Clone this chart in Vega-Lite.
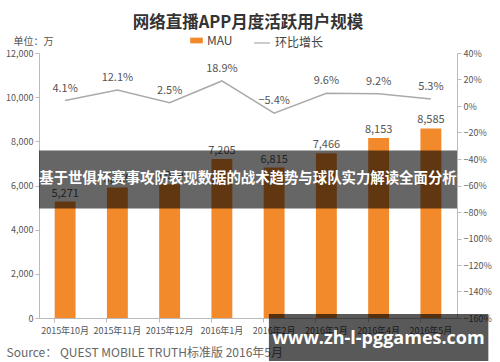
{
  "$schema": "https://vega.github.io/schema/vega-lite/v6.json",
  "width": 500,
  "height": 362,
  "autosize": {"type": "fit", "contains": "padding"},
  "padding": {"left": 5, "right": 5, "top": 14, "bottom": -15},
  "background": "white",
  "config": {
    "font": "Noto Sans CJK SC",
    "view": {"stroke": null},
    "axis": {"labelFont": "Noto Sans CJK SC", "labelColor": "#555", "domainColor": "#bbb", "tickColor": "#bbb", "grid": false},
    "legend": {"labelFont": "Noto Sans CJK SC", "labelColor": "#444", "labelFontSize": 12}
  },
  "title": {
    "text": "网络直播APP月度活跃用户规模",
    "fontSize": 16.5,
    "fontWeight": "bold",
    "color": "#333",
    "font": "Noto Sans CJK SC",
    "offset": 5
  },
  "datasets": {
    "main": [
      {"month": "2015年10月", "mau": 5271, "growth": 0.041},
      {"month": "2015年11月", "mau": 5910, "growth": 0.121},
      {"month": "2015年12月", "mau": 6059, "growth": 0.025},
      {"month": "2016年1月", "mau": 7205, "growth": 0.189},
      {"month": "2016年2月", "mau": 6815, "growth": -0.054},
      {"month": "2016年3月", "mau": 7466, "growth": 0.096},
      {"month": "2016年4月", "mau": 8153, "growth": 0.092},
      {"month": "2016年5月", "mau": 8585, "growth": 0.053}
    ],
    "banner": [
      {"label": "基于世俱杯赛事攻防表现数据的战术趋势与球队实力解读全面分析", "top": 7590, "bottom": 4955, "mid": 6273}
    ],
    "mark": [
      {"label": "www.zh-l-pggames.com", "top": 180, "bottom": -1950, "mid": -950, "at": "2016年4月"}
    ]
  },
  "data": {"name": "main"},
  "layer": [
    {
      "mark": {"type": "bar", "color": "#F28A2C"},
      "encoding": {
        "x": {
          "field": "month", "type": "nominal", "sort": null,
          "scale": {"paddingInner": 0.6, "paddingOuter": 0.3},
          "axis": {
            "title": "Source：  QUEST MOBILE   TRUTH标准版 2016年5月",
            "titleFont": "Noto Sans CJK SC", "titleFontSize": 12, "titleFontWeight": "normal", "titleColor": "#666",
            "titleAnchor": "start", "titleAlign": "left", "titleBaseline": "middle", "titleX": -33, "titleY": 34,
            "labelAngle": 0, "labelFontSize": 9, "labelPadding": 4, "tickSize": 4, "bandPosition": 0
          }
        },
        "y": {
          "field": "mau", "type": "quantitative",
          "scale": {"domain": [0, 12000]},
          "axis": {
            "values": [0, 2000, 4000, 6000, 8000, 10000, 12000], "format": ",.0f",
            "labelFontSize": 9, "tickSize": 4,
            "title": "单位：万", "titleAngle": 0, "titleFontSize": 10, "titleFontWeight": "normal", "titleColor": "#555",
            "titleAlign": "center", "titleBaseline": "middle", "titleX": -6, "titleY": -12
          }
        },
        "fill": {
          "datum": "MAU",
          "scale": {"range": ["#F28A2C"]},
          "legend": {"orient": "none", "legendX": 151, "legendY": -19, "title": null, "symbolType": "M-1,-0.45H1V0.45H-1Z", "symbolSize": 160, "symbolStrokeWidth": 0}
        }
      }
    },
    {
      "mark": {"type": "text", "dy": -8, "fontSize": 11, "color": "#555"},
      "encoding": {
        "x": {"field": "month", "type": "nominal", "sort": null},
        "y": {"field": "mau", "type": "quantitative", "scale": {"domain": [0, 12000]}, "axis": null},
        "text": {"field": "mau", "type": "quantitative", "format": ","}
      }
    },
    {
      "mark": {"type": "line", "strokeWidth": 1.5},
      "encoding": {
        "x": {"field": "month", "type": "nominal", "sort": null},
        "y": {
          "field": "growth", "type": "quantitative",
          "scale": {"domain": [-1.6, 0.4]},
          "axis": {"orient": "right", "title": null, "format": ".0%", "values": [-1.6, -1.4, -1.2, -1.0, -0.8, -0.6, -0.4, -0.2, 0, 0.2, 0.4], "labelFontSize": 9, "tickSize": 4}
        },
        "stroke": {
          "datum": "环比增长",
          "scale": {"range": ["#aaaaaa"]},
          "legend": {"orient": "none", "legendX": 214, "legendY": -19, "title": null, "symbolType": "stroke", "symbolStrokeWidth": 1.2, "symbolSize": 250}
        }
      }
    },
    {
      "mark": {"type": "text", "dy": -12, "fontSize": 11, "color": "#555"},
      "encoding": {
        "x": {"field": "month", "type": "nominal", "sort": null},
        "y": {"field": "growth", "type": "quantitative", "scale": {"domain": [-1.6, 0.4]}, "axis": null},
        "text": {"field": "growth", "type": "quantitative", "format": ".1%"}
      }
    },
    {
      "data": {"name": "banner"},
      "mark": {"type": "rect", "color": "black", "opacity": 0.6},
      "encoding": {
        "y": {"field": "top", "type": "quantitative", "scale": {"domain": [0, 12000]}, "axis": null},
        "y2": {"field": "bottom"}
      }
    },
    {
      "data": {"name": "banner"},
      "mark": {"type": "text", "color": "white", "fontSize": 14.4, "fontWeight": "bold", "font": "Noto Sans CJK SC"},
      "encoding": {
        "y": {"field": "mid", "type": "quantitative", "scale": {"domain": [0, 12000]}, "axis": null},
        "text": {"field": "label"}
      }
    },
    {
      "data": {"name": "mark"},
      "mark": {"type": "bar", "color": "black", "opacity": 0.65, "width": {"band": 10.5}},
      "encoding": {
        "x": {"field": "at", "type": "nominal", "sort": null},
        "y": {"field": "top", "type": "quantitative", "scale": {"domain": [0, 12000]}, "axis": null},
        "y2": {"field": "bottom"}
      }
    },
    {
      "data": {"name": "mark"},
      "mark": {"type": "text", "color": "white", "fontSize": 18, "fontWeight": "bold", "font": "Open Sans"},
      "encoding": {
        "x": {"field": "at", "type": "nominal", "sort": null},
        "y": {"field": "mid", "type": "quantitative", "scale": {"domain": [0, 12000]}, "axis": null},
        "text": {"field": "label"}
      }
    }
  ],
  "resolve": {"scale": {"y": "independent"}}
}
